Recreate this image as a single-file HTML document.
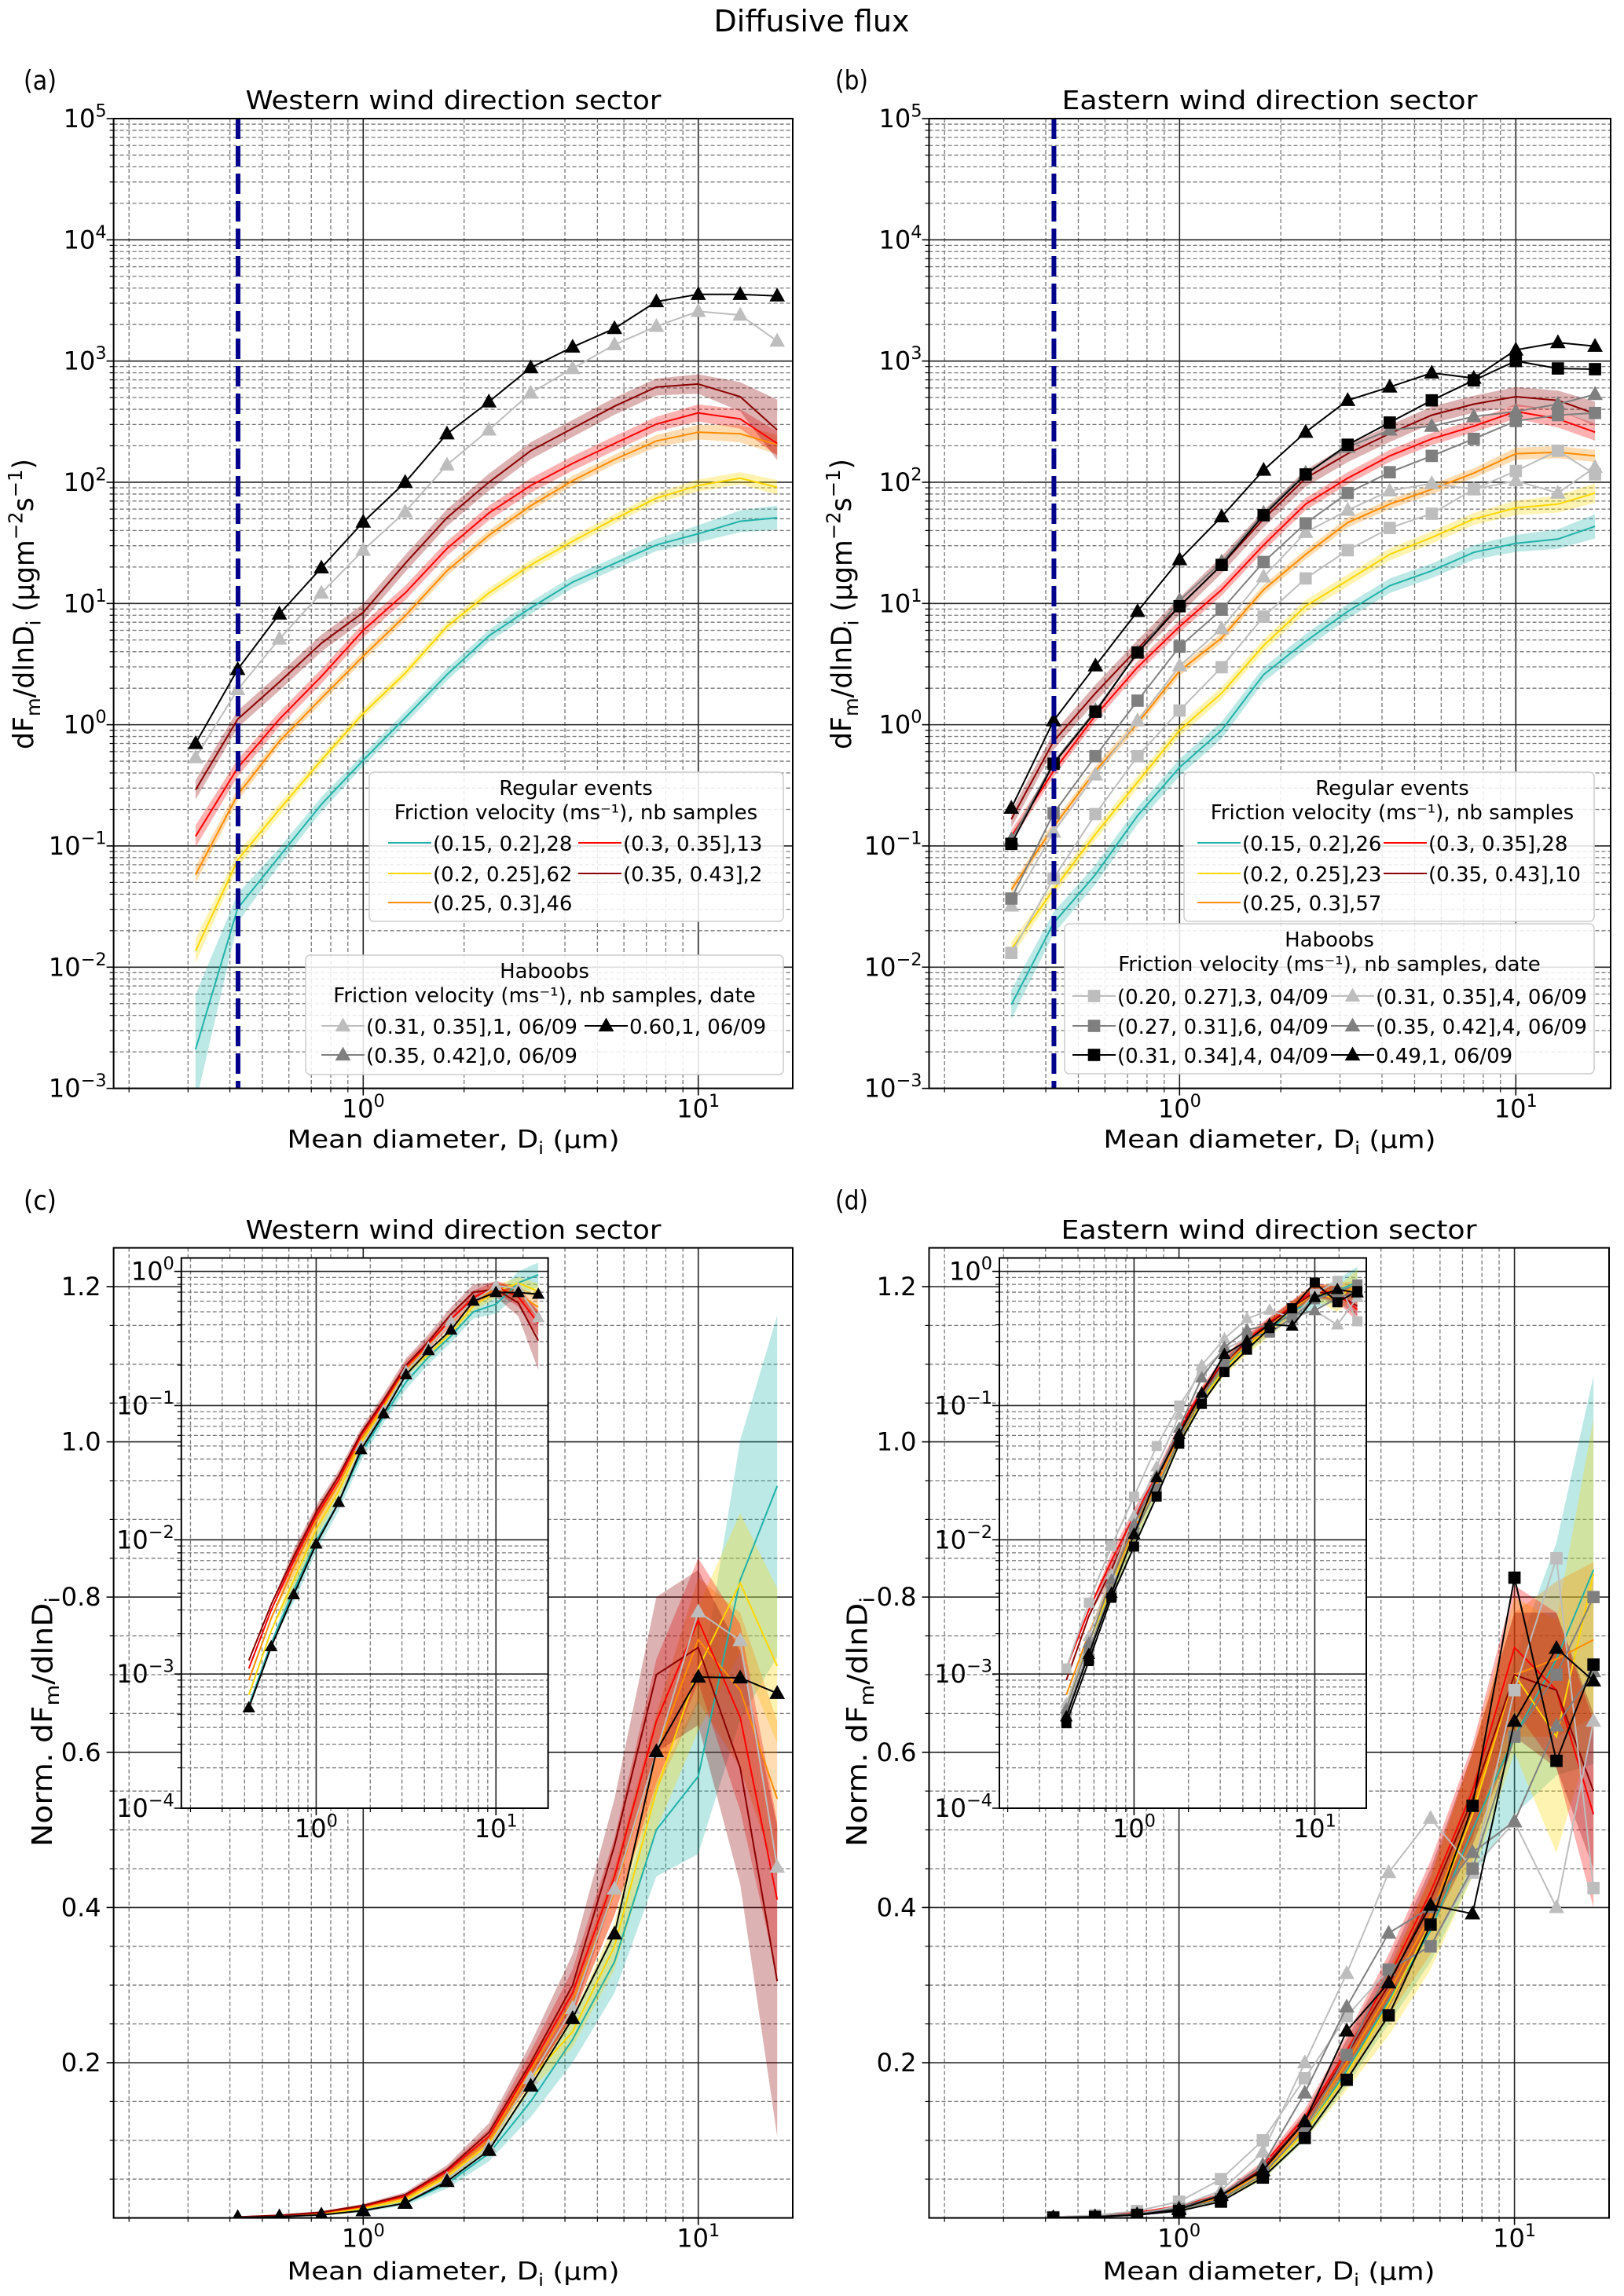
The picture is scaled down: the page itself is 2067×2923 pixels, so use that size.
<!DOCTYPE html>
<html><head><meta charset="utf-8"><title>Diffusive flux</title>
<style>
html,body{margin:0;padding:0;background:#fff;}
svg{display:block;font-family:"DejaVu Sans","Liberation Sans",sans-serif;}
</style></head>
<body>
<svg id="chart" xmlns="http://www.w3.org/2000/svg" width="2067" height="2923" viewBox="0 0 2067 2923">
<rect x="0" y="0" width="2067" height="2923" fill="#fff"/>
<text x="1033" y="40" font-size="38" text-anchor="middle">Diffusive flux</text>
</svg>
<script>
// ---------- data ----------
const diameters=[0.316,0.422,0.562,0.75,1.0,1.334,1.778,2.371,3.162,4.217,5.623,7.499,10.0,13.34,17.2];
// Panel (a) western, regular events
const aTeal=[0.0021,0.0306,0.082,0.22,0.51,1.14,2.59,5.4,9.2,15,21.4,30.4,37.6,47.7,51];
const aYellow=[0.0136,0.0766,0.2,0.51,1.24,2.66,6.46,12.2,20.8,32.6,49.8,74,94,108,91];
const aOrange=[0.058,0.264,0.73,1.65,3.68,7.9,18.6,36.5,64,103,154,219,259,251,204];
const aRed=[0.12,0.44,1.11,2.5,6.0,12.2,28.4,55.7,94,143,209,302,373,333,209];
const aDarkRed=[0.29,1.11,2.25,4.7,8.45,21.4,51,100,182,278,424,611,646,508,270];
const aTealErr=[0.45,0.12,0.07,0.06,0.05,0.05,0.05,0.05,0.05,0.05,0.05,0.05,0.07,0.09,0.1];
const aYellowErr=[0.1,0.06,0.05,0.04,0.04,0.04,0.04,0.04,0.04,0.04,0.04,0.04,0.05,0.05,0.06];
const aOrangeErr=[0.07,0.05,0.04,0.04,0.04,0.04,0.04,0.04,0.04,0.04,0.04,0.05,0.06,0.07,0.08];
const aRedErr=[0.09,0.07,0.06,0.06,0.06,0.06,0.06,0.06,0.06,0.06,0.06,0.06,0.07,0.08,0.1];
const aDarkRedErr=[0.08,0.07,0.07,0.07,0.07,0.07,0.07,0.07,0.07,0.07,0.07,0.07,0.08,0.12,0.25];
// Panel (a) haboobs
const aHabLight=[0.535,1.95,5.1,12.2,27.5,57,139,270,545,869,1365,1936,2570,2395,1462];
const aHabBlack=[0.70,2.86,8.2,19.7,47,100,251,461,881,1306,1857,3090,3550,3550,3450];
// Panel (b) eastern, regular events
const bTeal=[0.0049,0.0231,0.058,0.178,0.444,0.9,2.59,4.87,8.6,14,18.6,26.4,31.3,34,43.3];
const bYellow=[0.0141,0.0436,0.125,0.336,0.9,1.82,4.5,9.5,15.5,25.4,35,49.8,61.5,66,81.5];
const bOrange=[0.0436,0.144,0.415,1.03,2.77,5.2,13,25.4,46.5,66,87.5,119,172,177,165];
const bRed=[0.12,0.415,1.19,2.98,6.46,13,30.4,66,108,165,228,290,384,333,259];
const bDarkRed=[0.166,0.73,1.82,4.24,9.5,20.8,49.8,108,172,252,358,441,508,474,368];
const bTealErr=[0.12,0.09,0.08,0.07,0.07,0.07,0.06,0.06,0.06,0.06,0.06,0.06,0.07,0.08,0.1];
const bYellowErr=[0.06,0.05,0.05,0.05,0.05,0.05,0.05,0.05,0.05,0.05,0.05,0.05,0.06,0.07,0.08];
const bOrangeErr=[0.04,0.04,0.04,0.04,0.04,0.04,0.04,0.04,0.04,0.04,0.04,0.04,0.05,0.05,0.05];
const bRedErr=[0.05,0.05,0.05,0.05,0.05,0.05,0.05,0.05,0.05,0.05,0.05,0.05,0.06,0.07,0.07];
const bDarkRedErr=[0.07,0.07,0.07,0.07,0.07,0.07,0.07,0.07,0.07,0.07,0.07,0.07,0.08,0.08,0.1];
// Panel (b) haboobs
const bHabLightSq=[0.0131,0.054,0.183,0.55,1.31,2.98,7.8,16.1,27.5,42,55,87.5,124,182,116];
const bHabMidSq=[0.0368,0.186,0.55,1.58,4.4,8.9,22,45.8,81.5,121,165,228,320,358,373];
const bHabBlackSq=[0.104,0.477,1.28,3.94,9.5,20.8,53.5,116,204,311,474,693,1000,869,857];
const bHabLightTri=[0.032,0.13,0.386,1.08,3.06,6.2,16.6,38.6,58.9,85,97.7,87.5,103,81.5,133];
const bHabMidTri=[0.113,0.49,1.31,3.94,10.6,22,55.7,119,195,270,290,348,384,441,531];
const bHabBlackTri=[0.205,1.08,3.06,8.6,23,52,126,259,474,611,798,723,1236,1422,1325];
// Panel (c) western normalized (diameters from 0.42)
const cTeal=[0.00058,0.0017,0.0042,0.0098,0.019,0.044,0.083,0.15,0.23,0.33,0.5,0.569,0.822,0.943];
const cYellow=[0.0007,0.0021,0.005,0.012,0.023,0.053,0.095,0.18,0.24,0.35,0.55,0.708,0.818,0.711];
const cOrange=[0.0009,0.0026,0.0062,0.014,0.026,0.056,0.1,0.19,0.28,0.42,0.6,0.745,0.68,0.54];
const cRed=[0.0011,0.003,0.007,0.015,0.028,0.06,0.105,0.195,0.29,0.44,0.64,0.77,0.645,0.41];
const cDarkRed=[0.00126,0.0033,0.0075,0.016,0.03,0.062,0.11,0.2,0.3,0.48,0.7,0.735,0.58,0.305];
const cTealErr=[0,0,0.001,0.002,0.003,0.006,0.01,0.02,0.03,0.04,0.06,0.1,0.18,0.22];
const cYellowErr=[0,0,0.001,0.002,0.003,0.005,0.008,0.015,0.02,0.03,0.05,0.08,0.09,0.1];
const cOrangeErr=[0,0,0.001,0.002,0.003,0.005,0.008,0.015,0.02,0.03,0.05,0.08,0.1,0.1];
const cRedErr=[0,0,0.001,0.002,0.003,0.005,0.01,0.02,0.03,0.05,0.08,0.08,0.12,0.1];
const cDarkRedErr=[0,0,0.001,0.002,0.003,0.006,0.012,0.025,0.04,0.06,0.1,0.1,0.15,0.2];
const cHabLight=[0.00056,0.0016,0.0039,0.0093,0.019,0.05,0.092,0.18,0.27,0.424,0.6,0.781,0.744,0.452];
const cHabBlack=[0.00056,0.0016,0.0039,0.0093,0.019,0.047,0.087,0.17,0.257,0.366,0.601,0.697,0.696,0.676];
// Panel (d) eastern normalized
const dTeal=[0.0006,0.0017,0.0045,0.011,0.024,0.055,0.11,0.19,0.28,0.37,0.5,0.62,0.72,0.835];
const dYellow=[0.0006,0.0017,0.0045,0.011,0.024,0.055,0.11,0.185,0.275,0.38,0.52,0.7,0.62,0.83];
const dOrange=[0.0007,0.002,0.005,0.012,0.026,0.06,0.118,0.2,0.29,0.39,0.53,0.7,0.72,0.745];
const dRed=[0.0011,0.003,0.007,0.015,0.03,0.068,0.13,0.215,0.31,0.42,0.55,0.735,0.68,0.52];
const dDarkRed=[0.0009,0.0027,0.006,0.014,0.028,0.064,0.125,0.21,0.3,0.41,0.54,0.7,0.68,0.55];
const dTealErr=[0,0,0.001,0.002,0.003,0.006,0.01,0.02,0.03,0.04,0.06,0.1,0.15,0.25];
const dYellowErr=[0,0,0.001,0.002,0.003,0.006,0.01,0.02,0.04,0.06,0.08,0.1,0.15,0.2];
const dOrangeErr=[0,0,0.001,0.002,0.003,0.005,0.01,0.02,0.03,0.05,0.07,0.08,0.1,0.1];
const dRedErr=[0,0,0.001,0.002,0.003,0.005,0.01,0.02,0.03,0.04,0.06,0.08,0.1,0.12];
const dDarkRedErr=[0,0,0.001,0.002,0.003,0.005,0.01,0.02,0.03,0.04,0.06,0.08,0.1,0.1];
const dHabLightSq=[0.0011,0.0034,0.009,0.021,0.05,0.1,0.18,0.26,0.32,0.35,0.445,0.68,0.85,0.425];
const dHabMidSq=[0.0005,0.0015,0.0042,0.011,0.024,0.056,0.115,0.21,0.32,0.35,0.45,0.62,0.70,0.80];
const dHabBlackSq=[0.00043,0.00125,0.0037,0.0089,0.021,0.052,0.103,0.178,0.261,0.378,0.531,0.825,0.589,0.713];
const dHabLightTri=[0.0006,0.0019,0.0055,0.015,0.035,0.085,0.2,0.315,0.445,0.515,0.45,0.51,0.40,0.64];
const dHabMidTri=[0.00055,0.0017,0.005,0.013,0.03,0.068,0.161,0.272,0.367,0.40,0.471,0.511,0.634,0.704];
const dHabBlackTri=[0.00048,0.0014,0.004,0.011,0.029,0.061,0.124,0.241,0.303,0.403,0.392,0.64,0.734,0.692];
const cutoffDiameter=0.423;
const xTickDecades=[0,1];
const yTickDecadesMain=[-3,-2,-1,0,1,2,3,4,5];
const yTickDecadesInset=[-4,-3,-2,-1,0];
const yTicksLinear=[0.2,0.4,0.6,0.8,1.0,1.2];

// ---------- drawing ----------
const NS='http://www.w3.org/2000/svg';
const svg=document.getElementById('chart');
const C={teal:'#20b2aa',yellow:'#ffd700',orange:'#ff8c00',red:'#ff0000',darkred:'#8b0000',lgray:'#bdbdbd',mgray:'#7f7f7f',black:'#000000'};
function mk(tag,attrs,parent,name,inter){
  const e=document.createElementNS(NS,tag);
  for(const k in attrs) e.setAttribute(k,attrs[k]);
  
  
  parent.appendChild(e);return e;
}
function panel(o){
  o.X=v=>o.L+(Math.log10(v)-o.x0)/(o.x1-o.x0)*(o.R-o.L);
  o.Y=o.ylog?(v=>o.B-(Math.log10(Math.max(v,1e-9))-o.y0)/(o.y1-o.y0)*(o.B-o.T)):(v=>o.B-(v-o.y0)/(o.y1-o.y0)*(o.B-o.T));
  o.g=mk('g',{},svg,o.name,false);
  if(o.white) mk('rect',{x:o.L,y:o.T,width:o.R-o.L,height:o.B-o.T,fill:'#fff'},o.g,o.name+'-background',false);
  const cp=mk('clipPath',{id:'clip-'+o.name},o.g,o.name+'-clip',false);
  mk('rect',{x:o.L,y:o.T,width:o.R-o.L,height:o.B-o.T},cp,o.name+'-clip-rect',false);
  const grid=mk('g',{},o.g,o.name+'-grid',false);
  for(let d=-1;d<=1;d++)for(let k=1;k<=9;k++){const v=k*Math.pow(10,d);const l=Math.log10(v);if(l<o.x0||l>o.x1)continue;const x=o.X(v);
    if(k===1){mk('line',{x1:x,x2:x,y1:o.T,y2:o.B,stroke:'#222','stroke-width':1.6},grid,o.name+'-x-major-grid',false);mk('line',{x1:x,x2:x,y1:o.B,y2:o.B+9,stroke:'#000','stroke-width':1.6},grid,o.name+'-x-major-tick',false);}
    else{mk('line',{x1:x,x2:x,y1:o.T,y2:o.B,stroke:'#777','stroke-width':1.3,'stroke-dasharray':'5,3'},grid,o.name+'-x-minor-grid',false);mk('line',{x1:x,x2:x,y1:o.B,y2:o.B+5,stroke:'#000','stroke-width':1.2},grid,o.name+'-x-minor-tick',false);}
  }
  if(o.ylog){
    for(let d=o.y0;d<=Math.ceil(o.y1);d++)for(let k=1;k<=9;k++){const v=k*Math.pow(10,d);const l=Math.log10(v);if(l<o.y0||l>o.y1+1e-9)continue;const y=o.Y(v);
      if(k===1){mk('line',{x1:o.L,x2:o.R,y1:y,y2:y,stroke:'#222','stroke-width':1.6},grid,o.name+'-y-major-grid',false);mk('line',{x1:o.L-9,x2:o.L,y1:y,y2:y,stroke:'#000','stroke-width':1.6},grid,o.name+'-y-major-tick',false);}
      else{mk('line',{x1:o.L,x2:o.R,y1:y,y2:y,stroke:'#777','stroke-width':1.3,'stroke-dasharray':'5,3'},grid,o.name+'-y-minor-grid',false);mk('line',{x1:o.L-5,x2:o.L,y1:y,y2:y,stroke:'#000','stroke-width':1.2},grid,o.name+'-y-minor-tick',false);}
    }
  } else {
    for(let i=1;i<25;i++){const v=i*0.05;if(v>o.y1)break;const y=o.Y(v);const major=(i%4===0);
      if(major){mk('line',{x1:o.L,x2:o.R,y1:y,y2:y,stroke:'#222','stroke-width':1.6},grid,o.name+'-y-major-grid',false);mk('line',{x1:o.L-9,x2:o.L,y1:y,y2:y,stroke:'#000','stroke-width':1.6},grid,o.name+'-y-major-tick',false);}
      else{mk('line',{x1:o.L,x2:o.R,y1:y,y2:y,stroke:'#777','stroke-width':1.3,'stroke-dasharray':'5,3'},grid,o.name+'-y-minor-grid',false);mk('line',{x1:o.L-5,x2:o.L,y1:y,y2:y,stroke:'#000','stroke-width':1.2},grid,o.name+'-y-minor-tick',false);}
    }
  }
  o.plot=mk('g',{'clip-path':'url(#clip-'+o.name+')'},o.g,o.name+'-plot-area',false);
  return o;
}
function frame(o){mk('rect',{x:o.L,y:o.T,width:o.R-o.L,height:o.B-o.T,fill:'none',stroke:'#000','stroke-width':2},o.g,o.name+'-frame',false);}
function pow10(parent,x,y,exp,anchor,fs,name){
  const t=mk('text',{x:x,y:y,'font-size':fs,'text-anchor':anchor},parent,name,false);
  const a=mk('tspan',{},t,name+'-base',false);a.textContent='10';
  const b=mk('tspan',{dy:-fs*0.42,'font-size':fs*0.7},t,name+'-exponent',false);b.textContent=(exp<0?'\u2212'+(-exp):''+exp);
  return t;
}
function ticks(o,fs){
  xTickDecades.forEach(d=>{pow10(o.g,o.X(Math.pow(10,d)),o.B+37,d,'middle',fs,o.name+'-x-tick-label');});
  if(o.ylog){ (o.inset?yTickDecadesInset:yTickDecadesMain).forEach(d=>{if(d<o.y0||d>o.y1)return;pow10(o.g,o.L-9,o.Y(Math.pow(10,d))+11,d,'end',fs,o.name+'-y-tick-label');}); }
  else { yTicksLinear.forEach(v=>{const t=mk('text',{x:o.L-16,y:o.Y(v)+11,'font-size':fs,'text-anchor':'end'},o.g,o.name+'-y-tick-label',false);t.textContent=v.toFixed(1);}); }
}
function band(o,xs,vals,err,color,name,logMode){
  const up=[],dn=[];
  xs.forEach((x,i)=>{let hi,lo;if(logMode){hi=vals[i]*Math.pow(10,err[i]);lo=vals[i]*Math.pow(10,-err[i]);}else{hi=vals[i]+err[i];lo=Math.max(vals[i]-err[i],1e-9);}
    up.push(o.X(x).toFixed(1)+','+o.Y(hi).toFixed(1));dn.unshift(o.X(x).toFixed(1)+','+o.Y(lo).toFixed(1));});
  mk('polygon',{points:up.concat(dn).join(' '),fill:color,'fill-opacity':0.3,stroke:'none'},o.plot,name,false);
}
function line(o,xs,vals,color,name,w){
  mk('polyline',{points:xs.map((x,i)=>o.X(x).toFixed(1)+','+o.Y(vals[i]).toFixed(1)).join(' '),fill:'none',stroke:color,'stroke-width':w||2},o.plot,name,false);
}
function marker(parent,x,y,shape,color,name,s){
  s=s||16;
  if(shape==='tri') mk('polygon',{points:(x)+','+(y-s*0.62)+' '+(x-s*0.58)+','+(y+s*0.42)+' '+(x+s*0.58)+','+(y+s*0.42),fill:color},parent,name,false);
  else mk('rect',{x:x-s*0.46,y:y-s*0.46,width:s*0.92,height:s*0.92,fill:color},parent,name,false);
}
function hab(o,xs,vals,color,shape,name,s){
  line(o,xs,vals,color,name+'-line',2);
  const g=mk('g',{},o.plot,name+'-markers',false);
  xs.forEach((x,i)=>{marker(g,o.X(x),o.Y(vals[i]),shape,color,name+'-marker',s);});
}
function regular(o,xs,sets,logMode){
  sets.forEach(s=>band(o,xs,s[0],s[1],s[2],s[3]+'-band',logMode));
  sets.forEach(s=>line(o,xs,s[0],s[2],s[3]+'-line',2));
}
function label(o,parts,x,y,fs,rot,name,len){
  const t=mk('text',{x:x,y:y,'font-size':fs,'text-anchor':'middle',transform:rot?('rotate(-90 '+x+' '+y+')'):''},svg,name,false);
  if(len){t.setAttribute('textLength',len);t.setAttribute('lengthAdjust','spacingAndGlyphs');}
  parts.forEach(p=>{const ts=mk('tspan',p[1]==='sub'?{dy:fs*0.25,'font-size':fs*0.7}:p[1]==='sup'?{dy:-fs*0.4,'font-size':fs*0.7}:p[1]==='back'?{dy:p[2]}:{},t,name+'-part',false);ts.textContent=p[0];});
  return t;
}
function legend(x,y,w,h,titleCx,titles,rows,name){
  const g=mk('g',{},svg,name,false);
  mk('rect',{x:x,y:y,width:w,height:h,rx:6,fill:'#fff','fill-opacity':0.85,stroke:'#cccccc','stroke-width':1.5},g,name+'-box',false);
  titles.forEach((t,i)=>{const e=mk('text',{x:titleCx,y:y+29+i*31,'font-size':26,'text-anchor':'middle'},g,name+'-title',false);e.textContent=t;});
  rows.forEach(r=>{
    const en=mk('g',{},g,name+'-entry',true);
    mk('line',{x1:r.x,x2:r.x+55,y1:r.y,y2:r.y,stroke:r.c,'stroke-width':2},en,name+'-entry-line',false);
    if(r.m) marker(en,r.x+27.5,r.y,r.m,r.c,name+'-entry-marker',17);
    const t=mk('text',{x:r.x+57,y:r.y+10,'font-size':26},en,name+'-entry-label',false);t.textContent=r.t;
  });
}

const D=diameters, Dn=diameters.slice(1);
// ===== Panel (a)
const A=panel({name:'panel-a',L:144.6,R:1009,T:151,B:1385.6,x0:-0.745,x1:1.282,ylog:true,y0:-3,y1:5});
regular(A,D,[[aTeal,aTealErr,C.teal,'a-teal'],[aYellow,aYellowErr,C.yellow,'a-yellow'],[aOrange,aOrangeErr,C.orange,'a-orange'],[aRed,aRedErr,C.red,'a-red'],[aDarkRed,aDarkRedErr,C.darkred,'a-darkred']],true);
hab(A,D,aHabLight,C.lgray,'tri','a-haboob-0.31',17);
hab(A,D,aHabBlack,C.black,'tri','a-haboob-0.60',17);
mk('line',{x1:A.X(cutoffDiameter),x2:A.X(cutoffDiameter),y1:A.T,y2:A.B,stroke:'#00008b','stroke-width':6,'stroke-dasharray':'26,9'},A.g,'a-cutoff-line',false);
frame(A);ticks(A,32);
// ===== Panel (b)
const Bp=panel({name:'panel-b',L:1182.5,R:2050,T:151,B:1385.6,x0:-0.745,x1:1.282,ylog:true,y0:-3,y1:5});
regular(Bp,D,[[bTeal,bTealErr,C.teal,'b-teal'],[bYellow,bYellowErr,C.yellow,'b-yellow'],[bOrange,bOrangeErr,C.orange,'b-orange'],[bRed,bRedErr,C.red,'b-red'],[bDarkRed,bDarkRedErr,C.darkred,'b-darkred']],true);
hab(Bp,D,bHabLightSq,C.lgray,'sq','b-haboob-0.20',17);
hab(Bp,D,bHabLightTri,C.lgray,'tri','b-haboob-0.31',17);
hab(Bp,D,bHabMidSq,C.mgray,'sq','b-haboob-0.27',17);
hab(Bp,D,bHabMidTri,C.mgray,'tri','b-haboob-0.35',17);
hab(Bp,D,bHabBlackSq,C.black,'sq','b-haboob-0.31sq',17);
hab(Bp,D,bHabBlackTri,C.black,'tri','b-haboob-0.49',17);
mk('line',{x1:Bp.X(cutoffDiameter),x2:Bp.X(cutoffDiameter),y1:Bp.T,y2:Bp.B,stroke:'#00008b','stroke-width':6,'stroke-dasharray':'26,9'},Bp.g,'b-cutoff-line',false);
frame(Bp);ticks(Bp,32);
// ===== Panel (c)
const Cp=panel({name:'panel-c',L:144.6,R:1009,T:1588.6,B:2823.6,x0:-0.745,x1:1.282,ylog:false,y0:0,y1:1.25});
const cSets=[[cTeal,cTealErr,C.teal,'c-teal'],[cYellow,cYellowErr,C.yellow,'c-yellow'],[cOrange,cOrangeErr,C.orange,'c-orange'],[cRed,cRedErr,C.red,'c-red'],[cDarkRed,cDarkRedErr,C.darkred,'c-darkred']];
regular(Cp,Dn,cSets,false);
hab(Cp,Dn,cHabLight,C.lgray,'tri','c-haboob-0.31',17);
hab(Cp,Dn,cHabBlack,C.black,'tri','c-haboob-0.60',17);
frame(Cp);ticks(Cp,32);
const Ci=panel({name:'inset-c',L:230.8,R:697.6,T:1601.5,B:2302,x0:-0.75,x1:1.29,ylog:true,y0:-4,y1:0.1,white:true,inset:true});
regular(Ci,Dn,cSets.map(s=>[s[0],s[1].map((e,i)=>Math.log10(1+e/s[0][i])),s[2],s[3]+'-inset']),true);
hab(Ci,Dn,cHabLight,C.lgray,'tri','c-inset-haboob-0.31',14);
hab(Ci,Dn,cHabBlack,C.black,'tri','c-inset-haboob-0.60',14);
frame(Ci);ticks(Ci,32);
// ===== Panel (d)
const Dp=panel({name:'panel-d',L:1182.5,R:2048,T:1588.6,B:2823.6,x0:-0.745,x1:1.282,ylog:false,y0:0,y1:1.25});
const dSets=[[dTeal,dTealErr,C.teal,'d-teal'],[dYellow,dYellowErr,C.yellow,'d-yellow'],[dOrange,dOrangeErr,C.orange,'d-orange'],[dRed,dRedErr,C.red,'d-red'],[dDarkRed,dDarkRedErr,C.darkred,'d-darkred']];
regular(Dp,Dn,dSets,false);
const dHabs=[[dHabLightSq,C.lgray,'sq','haboob-0.20'],[dHabLightTri,C.lgray,'tri','haboob-0.31'],[dHabMidSq,C.mgray,'sq','haboob-0.27'],[dHabMidTri,C.mgray,'tri','haboob-0.35'],[dHabBlackSq,C.black,'sq','haboob-0.31sq'],[dHabBlackTri,C.black,'tri','haboob-0.49']];
dHabs.forEach(h=>hab(Dp,Dn,h[0],h[1],h[2],'d-'+h[3],17));
frame(Dp);ticks(Dp,32);
const Di=panel({name:'inset-d',L:1272,R:1739,T:1601.5,B:2302,x0:-0.745,x1:1.285,ylog:true,y0:-4,y1:0.1,white:true,inset:true});
regular(Di,Dn,dSets.map(s=>[s[0],s[1].map((e,i)=>Math.log10(1+e/s[0][i])),s[2],s[3]+'-inset']),true);
dHabs.forEach(h=>hab(Di,Dn,h[0],h[1],h[2],'d-inset-'+h[3],14));
frame(Di);ticks(Di,32);

// ===== titles & labels
[[577,'Western wind direction sector',139,'a'],[1616,'Eastern wind direction sector',139,'b'],[577,'Western wind direction sector',1577,'c'],[1615,'Eastern wind direction sector',1577,'d']].forEach(t=>{
  const e=mk('text',{x:t[0],y:t[2],'font-size':33,'text-anchor':'middle',textLength:529,lengthAdjust:'spacingAndGlyphs'},svg,'panel-'+t[3]+'-title',false);e.textContent=t[1];
});
[[30,114,'(a)'],[1063,114,'(b)'],[30,1540,'(c)'],[1063,1540,'(d)']].forEach(t=>{
  const e=mk('text',{x:t[0],y:t[1],'font-size':34,textLength:42,lengthAdjust:'spacingAndGlyphs'},svg,'panel-label',false);e.textContent=t[2];
});
[[577,1461],[1616,1461],[577,2902],[1615,2902]].forEach((p,i)=>{
  label(null,[['Mean diameter, D'],['i','sub'],[' (\u03bcm)','back',-7.5]],p[0],p[1],31,false,'x-axis-title',423);
});
label(null,[['dF'],['m','sub'],['/dlnD','back',-8.5],['i','sub'],[' (\u03bcgm','back',-8.5],['\u22122','sup'],['s','back',13.6],['\u22121','sup'],[')','back',13.6]],42,769,36,true,'a-y-axis-title',370);
label(null,[['dF'],['m','sub'],['/dlnD','back',-8.5],['i','sub'],[' (\u03bcgm','back',-8.5],['\u22122','sup'],['s','back',13.6],['\u22121','sup'],[')','back',13.6]],1083,769,36,true,'b-y-axis-title',370);
label(null,[['Norm. dF'],['m','sub'],['/dlnD','back',-8.5],['i','sub']],66,2192,36,true,'c-y-axis-title',318);
label(null,[['Norm. dF'],['m','sub'],['/dlnD','back',-8.5],['i','sub']],1103,2192,36,true,'d-y-axis-title',318);

// ===== legends
legend(470,983,527,190,733,['Regular events','Friction velocity (ms\u207b\u00b9), nb samples'],[
  {x:494,y:1073,c:C.teal,t:'(0.15, 0.2],28'},{x:494,y:1112,c:C.yellow,t:'(0.2, 0.25],62'},{x:494,y:1149,c:C.orange,t:'(0.25, 0.3],46'},
  {x:736,y:1073,c:C.red,t:'(0.3, 0.35],13'},{x:736,y:1112,c:C.darkred,t:'(0.35, 0.43],2'}],'a-legend-regular');
legend(389,1216,608,152,693,['Haboobs','Friction velocity (ms\u207b\u00b9), nb samples, date'],[
  {x:409,y:1306,c:C.lgray,m:'tri',t:'(0.31, 0.35],1, 06/09'},{x:409,y:1343,c:C.mgray,m:'tri',t:'(0.35, 0.42],0, 06/09'},
  {x:744,y:1306,c:C.black,m:'tri',t:'0.60,1, 06/09'}],'a-legend-haboobs');
legend(1507,983,522,190,1772,['Regular events','Friction velocity (ms\u207b\u00b9), nb samples'],[
  {x:1524,y:1073,c:C.teal,t:'(0.15, 0.2],26'},{x:1524,y:1112,c:C.yellow,t:'(0.2, 0.25],23'},{x:1524,y:1149,c:C.orange,t:'(0.25, 0.3],57'},
  {x:1761,y:1073,c:C.red,t:'(0.3, 0.35],28'},{x:1761,y:1112,c:C.darkred,t:'(0.35, 0.43],10'}],'b-legend-regular');
legend(1355,1176,674,191,1692,['Haboobs','Friction velocity (ms\u207b\u00b9), nb samples, date'],[
  {x:1365,y:1268,c:C.lgray,m:'sq',t:'(0.20, 0.27],3, 04/09'},{x:1365,y:1306,c:C.mgray,m:'sq',t:'(0.27, 0.31],6, 04/09'},{x:1365,y:1343,c:C.black,m:'sq',t:'(0.31, 0.34],4, 04/09'},
  {x:1694,y:1268,c:C.lgray,m:'tri',t:'(0.31, 0.35],4, 06/09'},{x:1694,y:1306,c:C.mgray,m:'tri',t:'(0.35, 0.42],4, 06/09'},{x:1694,y:1343,c:C.black,m:'tri',t:'0.49,1, 06/09'}],'b-legend-haboobs');
</script>
</body></html>
